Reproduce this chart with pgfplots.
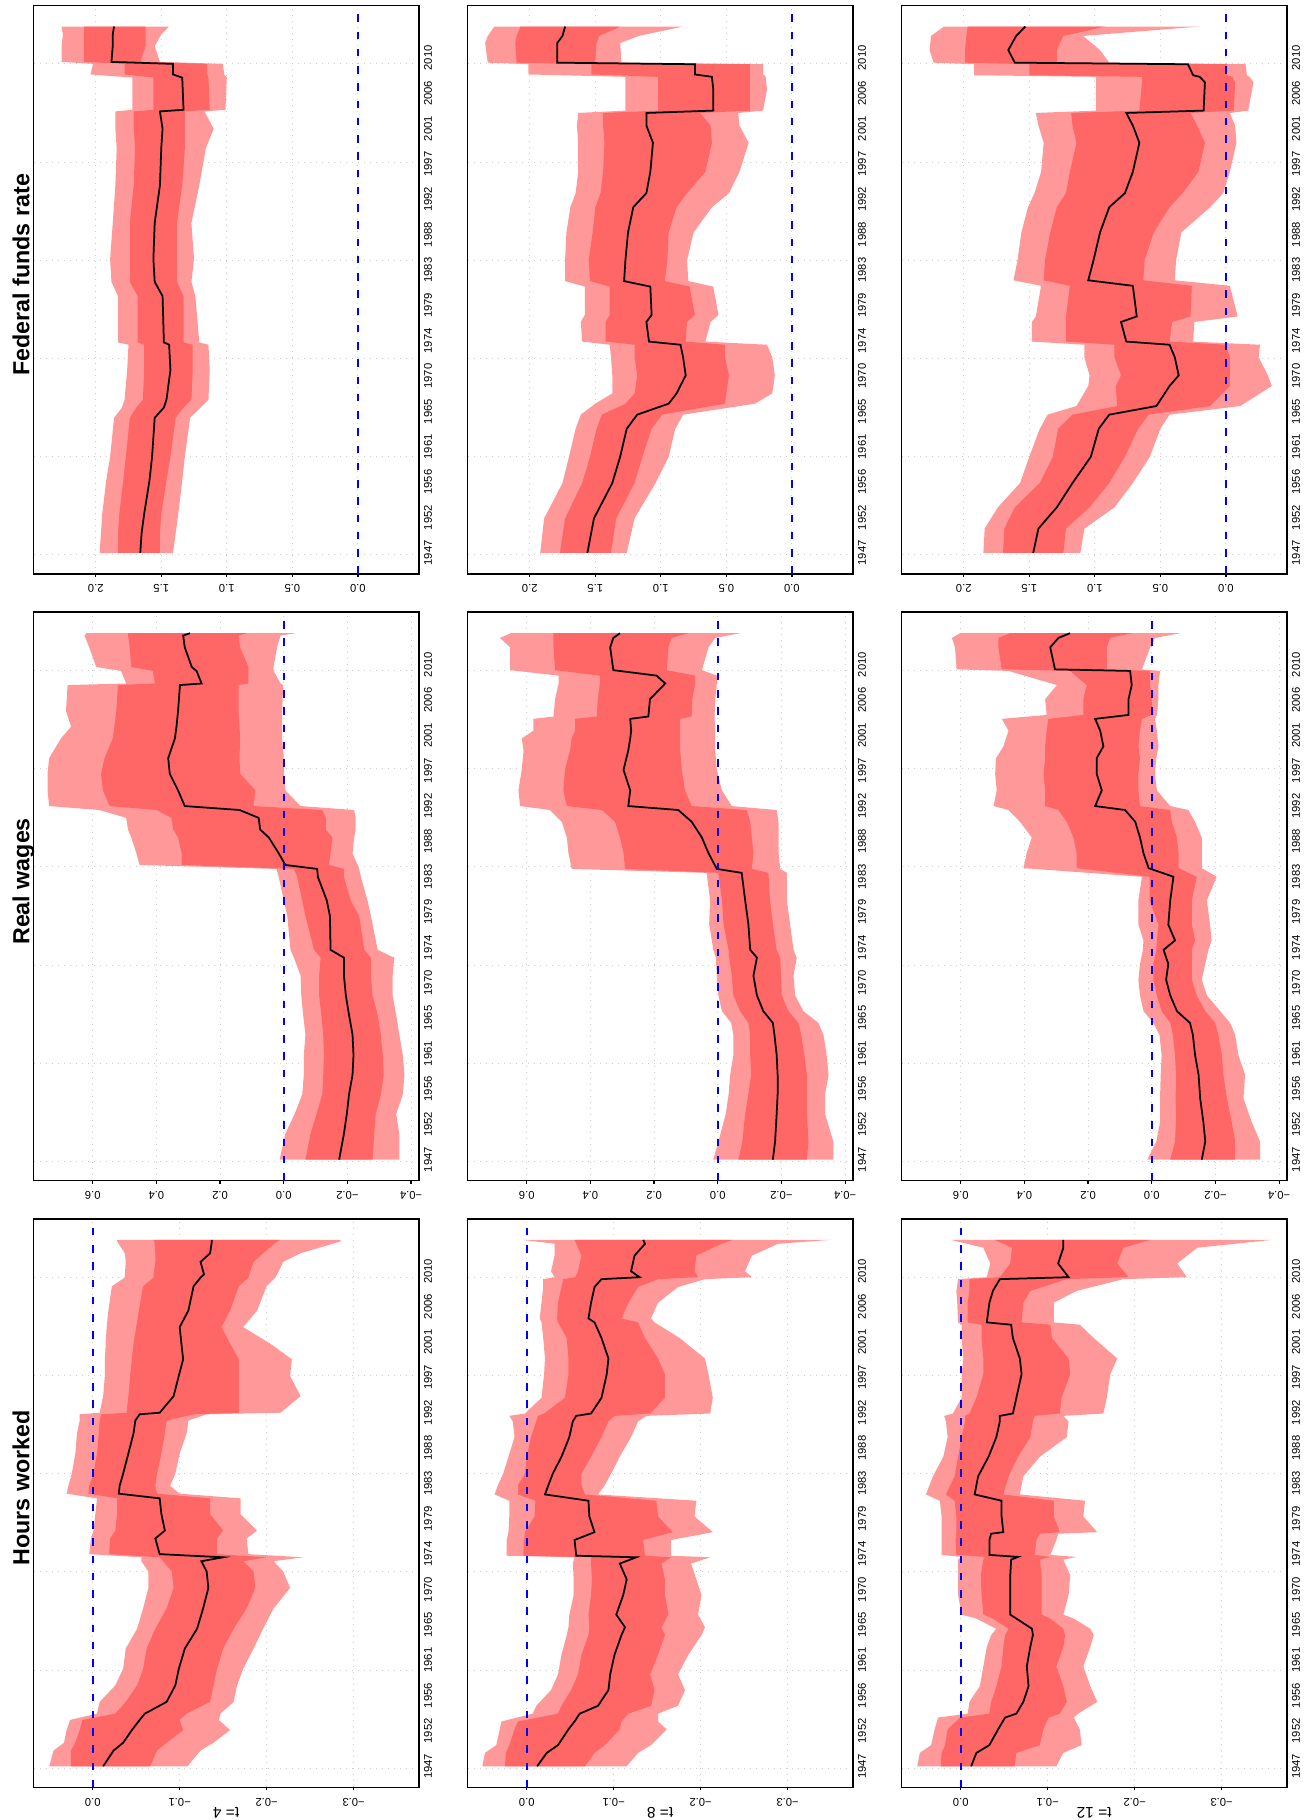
\documentclass[border=0pt]{standalone}
\usepackage{fontspec}
\setmainfont{Liberation Sans}
\usepackage{pgfplots}
\usepackage{pgfplotstable}
\pgfplotsset{compat=1.18}
\usepgfplotslibrary{fillbetween}
\definecolor{lightband}{RGB}{255,153,153}
\definecolor{darkband}{RGB}{255,102,102}
\newcommand{\tf}{\fontsize{4.5}{5}\selectfont}

% columns: y=year, a=upper outer, b=upper inner, m=median, c=lower inner, d=lower outer
\pgfplotstableread{
y a b m c d
1947.0 1.97 1.83 1.66 1.51 1.41
1949.5 1.96 1.83 1.65 1.51 1.39
1952.0 1.95 1.82 1.63 1.50 1.37
1956.2 1.92 1.79 1.59 1.46 1.34
1959.25 1.89 1.77 1.57 1.43 1.32
1964.2 1.86 1.74 1.55 1.39 1.28
1965.5 1.80 1.69 1.48 1.33 1.20
1966.5 1.78 1.64 1.46 1.27 1.14
1970.3 1.76 1.63 1.43 1.26 1.13
1973.5 1.75 1.63 1.44 1.26 1.14
1973.8 1.83 1.68 1.48 1.33 1.21
1979.7 1.83 1.68 1.49 1.33 1.24
1981.5 1.88 1.74 1.55 1.38 1.27
1984.4 1.89 1.74 1.56 1.38 1.25
1989.0 1.87 1.74 1.55 1.38 1.27
1993.8 1.85 1.71 1.51 1.34 1.21
1998.5 1.84 1.70 1.50 1.32 1.16
2001.0 1.85 1.71 1.49 1.32 1.10
2003.2 1.85 1.71 1.51 1.32 1.17
2003.4 1.72 1.56 1.33 1.13 1.01
2007.5 1.72 1.56 1.34 1.14 1.00
2007.9 2.04 1.78 1.41 1.15 1.02
2009.25 2.02 1.78 1.41 1.15 1.03
2009.5 2.26 2.09 1.88 1.66 1.51
2011.5 2.26 2.09 1.87 1.62 1.55
2013.0 2.25 2.09 1.87 1.62 1.50
2014.0 2.26 2.09 1.86 1.62 1.44
}\FA

\pgfplotstableread{
y a b m c d
1947.0 1.92 1.77 1.56 1.38 1.26
1951.4 1.89 1.73 1.51 1.34 1.20
1955.9 1.75 1.60 1.37 1.20 1.04
1959.25 1.70 1.54 1.31 1.14 0.94
1962.8 1.65 1.49 1.26 1.07 0.89
1964.6 1.61 1.45 1.18 0.99 0.83
1966.0 1.50 1.27 0.94 0.51 0.28
1967.3 1.37 1.20 0.88 0.50 0.15
1969.6 1.37 1.18 0.81 0.48 0.13
1971.9 1.38 1.20 0.83 0.51 0.15
1973.5 1.39 1.20 0.85 0.51 0.19
1973.9 1.60 1.42 1.09 0.81 0.66
1976.4 1.61 1.42 1.11 0.80 0.62
1977.3 1.58 1.39 1.07 0.74 0.56
1980.9 1.58 1.39 1.08 0.78 0.60
1981.6 1.73 1.54 1.28 0.97 0.79
1984.25 1.73 1.55 1.27 0.95 0.80
1987.8 1.72 1.52 1.25 0.94 0.75
1991.0 1.69 1.50 1.21 0.88 0.61
1992.8 1.65 1.46 1.11 0.80 0.48
1995.5 1.63 1.44 1.08 0.66 0.40
1999.2 1.63 1.43 1.06 0.61 0.33
2001.4 1.64 1.44 1.11 0.62 0.40
2003.0 1.63 1.44 1.11 0.70 0.41
2003.3 1.27 1.02 0.60 0.32 0.22
2006.0 1.27 1.02 0.60 0.32 0.19
2007.6 1.27 1.02 0.61 0.32 0.20
2007.9 2.01 1.53 0.74 0.32 0.22
2009.2 2.01 1.53 0.74 0.32 0.22
2009.4 2.32 2.10 1.79 1.50 1.30
2011.9 2.34 2.11 1.79 1.49 1.31
2012.8 2.32 2.10 1.75 1.47 1.17
2014.0 2.27 2.07 1.73 1.31 0.83
}\FB

\pgfplotstableread{
y a b m c d
1947.0 1.85 1.70 1.47 1.24 1.11
1950.1 1.84 1.69 1.43 1.22 1.08
1952.8 1.74 1.61 1.29 1.04 0.85
1955.9 1.57 1.42 1.17 0.89 0.71
1959.25 1.50 1.32 1.03 0.77 0.58
1962.8 1.42 1.28 0.97 0.67 0.50
1964.6 1.36 1.17 0.89 0.59 0.43
1965.7 1.14 0.83 0.53 0.12 -0.11
1968.25 1.05 0.84 0.43 -0.03 -0.35
1969.6 1.04 0.80 0.36 -0.03 -0.32
1971.9 1.08 0.85 0.39 -0.03 -0.25
1973.5 1.08 0.85 0.43 0.00 -0.26
1973.9 1.48 1.22 0.76 0.43 0.25
1976.4 1.48 1.22 0.80 0.41 0.24
1977.1 1.45 1.22 0.68 0.27 -0.09
1981.0 1.41 1.19 0.71 0.26 -0.03
1981.7 1.62 1.39 1.05 0.63 0.39
1984.25 1.59 1.38 1.01 0.62 0.38
1987.8 1.56 1.34 0.96 0.55 0.34
1991.0 1.51 1.29 0.89 0.43 0.12
1992.8 1.46 1.22 0.77 0.33 0.02
1995.5 1.41 1.19 0.71 0.21 -0.03
1999.2 1.39 1.14 0.66 0.16 -0.08
2001.4 1.43 1.17 0.71 0.22 -0.07
2003.0 1.45 1.18 0.76 0.27 -0.03
2003.3 0.99 0.66 0.17 -0.06 -0.17
2006.9 0.99 0.64 0.16 -0.07 -0.21
2007.6 0.99 0.64 0.20 -0.05 -0.18
2007.8 1.92 1.50 0.25 -0.01 -0.16
2009.2 1.92 1.50 0.29 -0.01 -0.15
2009.4 2.23 1.99 1.61 1.29 0.89
2011.0 2.26 1.99 1.66 1.29 0.96
2012.8 2.25 1.98 1.60 1.24 1.09
2014.0 2.15 1.97 1.53 0.92 0.20
}\FC

\pgfplotstableread{
y a b m c d
1947.0 0.013 -0.068 -0.174 -0.279 -0.363
1950.3 -0.005 -0.084 -0.189 -0.284 -0.363
1952.8 -0.034 -0.103 -0.198 -0.289 -0.353
1955.3 -0.058 -0.121 -0.205 -0.305 -0.374
1957.8 -0.063 -0.124 -0.216 -0.314 -0.379
1960.3 -0.063 -0.126 -0.219 -0.311 -0.374
1962.9 -0.068 -0.124 -0.216 -0.305 -0.363
1965.4 -0.061 -0.118 -0.205 -0.295 -0.353
1967.9 -0.055 -0.111 -0.195 -0.279 -0.342
1970.4 -0.053 -0.111 -0.189 -0.274 -0.342
1972.7 -0.032 -0.116 -0.189 -0.274 -0.347
1973.7 -0.021 -0.095 -0.147 -0.253 -0.295
1978.0 -0.011 -0.068 -0.145 -0.237 -0.274
1980.0 0.000 -0.058 -0.135 -0.210 -0.263
1983.0 0.016 -0.042 -0.107 -0.189 -0.242
1984.0 0.023 -0.032 -0.105 -0.189 -0.237
1984.5 0.453 0.321 -0.005 -0.142 -0.232
1986.0 0.463 0.321 0.016 -0.147 -0.216
1988.0 0.479 0.332 0.047 -0.153 -0.221
1989.0 0.489 0.347 0.074 -0.132 -0.226
1990.5 0.495 0.353 0.079 -0.132 -0.226
1991.5 0.579 0.400 0.139 -0.121 -0.221
1992.0 0.737 0.547 0.311 0.095 -0.053
1994.0 0.742 0.568 0.332 0.089 -0.005
1996.1 0.742 0.574 0.358 0.137 0.000
1998.1 0.737 0.563 0.363 0.139 0.000
2000.6 0.700 0.537 0.342 0.137 0.005
2002.1 0.668 0.532 0.337 0.139 0.005
2004.1 0.684 0.526 0.332 0.142 0.005
2007.4 0.679 0.521 0.326 0.142 0.002
2007.6 0.495 0.405 0.258 0.111 0.010
2009.2 0.511 0.411 0.274 0.111 0.032
2009.7 0.589 0.479 0.289 0.111 0.032
2012.2 0.611 0.484 0.311 0.137 0.021
2013.7 0.626 0.489 0.316 0.142 0.010
2014.0 0.620 0.489 0.295 0.116 -0.037
}\RA

\pgfplotstableread{
y a b m c d
1947.0 0.014 -0.065 -0.173 -0.280 -0.363
1949.3 -0.002 -0.077 -0.180 -0.285 -0.363
1952.8 -0.025 -0.086 -0.185 -0.280 -0.337
1955.3 -0.034 -0.096 -0.188 -0.280 -0.337
1957.8 -0.039 -0.105 -0.188 -0.280 -0.348
1960.3 -0.049 -0.102 -0.185 -0.272 -0.342
1962.9 -0.049 -0.102 -0.178 -0.262 -0.332
1964.4 -0.042 -0.096 -0.173 -0.253 -0.316
1965.9 -0.013 -0.070 -0.143 -0.222 -0.269
1967.9 -0.002 -0.049 -0.123 -0.201 -0.243
1970.4 0.003 -0.044 -0.112 -0.199 -0.238
1972.7 0.006 -0.036 -0.123 -0.196 -0.248
1973.7 0.014 -0.034 -0.102 -0.185 -0.238
1977.0 0.027 -0.018 -0.096 -0.173 -0.227
1980.0 0.024 -0.013 -0.086 -0.164 -0.217
1983.5 0.035 -0.002 -0.075 -0.159 -0.217
1984.0 0.459 0.291 0.003 -0.107 -0.196
1986.0 0.469 0.296 0.029 -0.112 -0.191
1988.0 0.474 0.307 0.050 -0.107 -0.191
1990.0 0.490 0.323 0.082 -0.102 -0.191
1991.5 0.527 0.364 0.124 -0.091 -0.185
1992.0 0.621 0.474 0.281 0.082 -0.044
1994.0 0.626 0.485 0.275 0.103 -0.013
1996.6 0.616 0.480 0.296 0.113 0.003
1999.1 0.610 0.464 0.281 0.118 0.008
2000.6 0.616 0.459 0.275 0.118 0.008
2001.6 0.579 0.448 0.272 0.118 0.008
2003.1 0.579 0.448 0.275 0.118 0.010
2003.4 0.516 0.380 0.218 0.082 0.010
2005.6 0.511 0.377 0.213 0.080 0.008
2007.6 0.500 0.370 0.165 0.071 0.003
2008.6 0.500 0.370 0.192 0.071 0.003
2009.3 0.652 0.511 0.328 0.160 0.050
2012.2 0.652 0.516 0.338 0.155 0.029
2013.4 0.684 0.516 0.328 0.145 0.008
2014.0 0.650 0.516 0.307 0.092 -0.070
}\RB

\pgfplotstableread{
y a b m c d
1947.0 0.014 -0.058 -0.157 -0.262 -0.340
1949.3 -0.014 -0.073 -0.168 -0.262 -0.340
1951.8 -0.026 -0.076 -0.162 -0.251 -0.314
1954.8 -0.026 -0.075 -0.152 -0.236 -0.288
1957.8 -0.028 -0.076 -0.147 -0.225 -0.293
1960.3 -0.031 -0.073 -0.136 -0.220 -0.272
1962.9 -0.024 -0.066 -0.129 -0.209 -0.262
1964.4 -0.005 -0.058 -0.120 -0.199 -0.246
1965.9 0.026 -0.031 -0.079 -0.168 -0.215
1967.9 0.037 -0.016 -0.058 -0.141 -0.173
1969.9 0.042 -0.005 -0.045 -0.126 -0.157
1971.9 0.037 -0.005 -0.052 -0.126 -0.168
1973.7 0.028 -0.014 -0.037 -0.126 -0.178
1974.9 0.026 -0.016 -0.073 -0.136 -0.188
1976.9 0.042 -0.021 -0.052 -0.126 -0.183
1980.0 0.042 0.007 -0.058 -0.126 -0.173
1983.0 0.031 0.007 -0.068 -0.141 -0.204
1984.1 0.403 0.236 0.010 -0.084 -0.157
1986.0 0.393 0.236 0.026 -0.084 -0.157
1988.0 0.377 0.246 0.037 -0.079 -0.157
1990.0 0.414 0.267 0.052 -0.063 -0.136
1991.5 0.450 0.293 0.084 -0.058 -0.115
1992.0 0.497 0.335 0.178 0.037 -0.058
1994.0 0.487 0.335 0.157 0.042 -0.016
1996.1 0.492 0.340 0.173 0.042 -0.010
1998.1 0.489 0.335 0.173 0.037 -0.014
1999.6 0.466 0.335 0.152 0.042 -0.021
2001.6 0.450 0.330 0.162 0.037 -0.016
2003.1 0.471 0.325 0.178 0.031 -0.010
2003.6 0.330 0.215 0.073 0.000 -0.016
2005.6 0.335 0.215 0.073 0.000 -0.021
2007.4 0.298 0.204 0.063 0.005 -0.021
2009.2 0.450 0.257 0.068 0.005 -0.026
2009.4 0.613 0.471 0.304 0.141 0.031
2012.2 0.618 0.482 0.319 0.141 0.005
2013.4 0.628 0.482 0.293 0.131 -0.010
2014.0 0.602 0.445 0.257 0.063 -0.089
}\RC

\pgfplotstableread{
y a b m c d
1947.0 0.050 0.025 -0.012 -0.066 -0.109
1949.0 0.045 0.025 -0.024 -0.074 -0.124
1950.0 0.033 0.020 -0.035 -0.085 -0.139
1951.6 0.030 0.015 -0.045 -0.104 -0.158
1952.9 0.026 0.012 -0.054 -0.100 -0.145
1953.7 -0.005 -0.026 -0.060 -0.108 -0.147
1955.2 -0.008 -0.038 -0.085 -0.135 -0.162
1957.3 -0.026 -0.051 -0.095 -0.139 -0.166
1959.4 -0.035 -0.058 -0.099 -0.143 -0.173
1962.0 -0.038 -0.062 -0.106 -0.150 -0.185
1964.5 -0.051 -0.072 -0.120 -0.162 -0.196
1967.1 -0.058 -0.085 -0.127 -0.177 -0.208
1969.7 -0.064 -0.093 -0.133 -0.187 -0.227
1971.8 -0.064 -0.091 -0.131 -0.185 -0.219
1973.1 -0.056 -0.081 -0.125 -0.173 -0.208
1973.6 -0.056 -0.077 -0.150 -0.200 -0.242
1974.0 0.004 -0.019 -0.077 -0.143 -0.179
1976.0 0.002 -0.020 -0.072 -0.143 -0.177
1977.0 -0.001 -0.026 -0.083 -0.150 -0.189
1979.1 -0.003 -0.028 -0.079 -0.135 -0.170
1981.1 -0.005 -0.028 -0.077 -0.135 -0.170
1981.7 0.030 0.005 -0.030 -0.074 -0.100
1982.7 0.028 0.004 -0.031 -0.072 -0.089
1984.25 0.024 -0.001 -0.035 -0.074 -0.095
1986.8 0.020 -0.005 -0.041 -0.079 -0.100
1989.4 0.018 -0.007 -0.047 -0.083 -0.108
1991.0 0.015 -0.008 -0.049 -0.085 -0.110
1991.8 0.015 -0.010 -0.054 -0.116 -0.131
1992.0 -0.008 -0.039 -0.077 -0.168 -0.216
1994.1 -0.012 -0.041 -0.093 -0.168 -0.239
1996.7 -0.014 -0.043 -0.099 -0.168 -0.227
1998.8 -0.014 -0.045 -0.104 -0.168 -0.229
2000.8 -0.015 -0.047 -0.102 -0.158 -0.204
2002.9 -0.016 -0.050 -0.100 -0.148 -0.173
2005.0 -0.018 -0.053 -0.110 -0.158 -0.189
2008.1 -0.022 -0.058 -0.116 -0.168 -0.200
2009.2 -0.037 -0.070 -0.124 -0.179 -0.210
2009.6 -0.037 -0.070 -0.128 -0.180 -0.212
2011.2 -0.038 -0.072 -0.124 -0.185 -0.219
2012.3 -0.037 -0.072 -0.135 -0.196 -0.239
2013.8 -0.028 -0.071 -0.137 -0.212 -0.285
2014.0 -0.028 -0.070 -0.137 -0.216 -0.285
}\HA

\pgfplotstableread{
y a b m c d
1947.0 0.051 0.025 -0.012 -0.067 -0.115
1948.7 0.048 0.024 -0.023 -0.078 -0.128
1949.7 0.035 0.020 -0.036 -0.090 -0.143
1951.7 0.031 0.014 -0.048 -0.107 -0.161
1952.7 0.029 0.010 -0.055 -0.109 -0.151
1953.7 -0.007 -0.036 -0.061 -0.117 -0.151
1954.7 -0.011 -0.040 -0.082 -0.143 -0.174
1956.7 -0.028 -0.051 -0.094 -0.147 -0.182
1958.7 -0.036 -0.059 -0.096 -0.142 -0.174
1961.2 -0.040 -0.063 -0.101 -0.151 -0.186
1963.7 -0.046 -0.071 -0.109 -0.159 -0.201
1964.7 -0.048 -0.072 -0.113 -0.155 -0.205
1966.3 -0.049 -0.071 -0.103 -0.163 -0.197
1968.8 -0.054 -0.074 -0.111 -0.159 -0.201
1970.8 -0.054 -0.075 -0.115 -0.159 -0.195
1972.8 -0.053 -0.074 -0.107 -0.155 -0.189
1973.6 -0.055 -0.074 -0.126 -0.166 -0.211
1973.8 0.023 0.004 -0.057 -0.136 -0.166
1975.8 0.023 0.003 -0.055 -0.134 -0.166
1976.8 0.021 0.002 -0.078 -0.168 -0.214
1978.8 0.020 -0.009 -0.072 -0.151 -0.193
1980.8 0.020 -0.010 -0.071 -0.149 -0.195
1981.6 0.037 0.010 -0.021 -0.067 -0.082
1982.8 0.033 0.010 -0.025 -0.063 -0.090
1984.25 0.027 0.002 -0.030 -0.063 -0.097
1986.4 0.021 0.000 -0.040 -0.074 -0.107
1988.9 0.014 -0.005 -0.049 -0.086 -0.120
1990.9 0.016 -0.011 -0.053 -0.094 -0.128
1991.6 0.020 -0.013 -0.057 -0.101 -0.138
1991.9 0.002 -0.020 -0.074 -0.142 -0.211
1993.9 -0.017 -0.044 -0.086 -0.159 -0.214
1996.9 -0.020 -0.048 -0.092 -0.159 -0.209
1998.9 -0.021 -0.048 -0.094 -0.151 -0.205
2001.5 -0.019 -0.046 -0.086 -0.136 -0.176
2003.5 -0.017 -0.036 -0.078 -0.128 -0.147
2004.0 -0.015 -0.035 -0.071 -0.109 -0.143
2006.0 -0.017 -0.036 -0.074 -0.117 -0.151
2008.0 -0.019 -0.040 -0.078 -0.128 -0.174
2009.0 -0.019 -0.042 -0.086 -0.151 -0.205
2009.25 -0.032 -0.056 -0.130 -0.197 -0.259
2010.0 -0.028 -0.059 -0.120 -0.193 -0.251
2012.0 -0.032 -0.063 -0.124 -0.195 -0.259
2013.5 -0.032 -0.057 -0.136 -0.224 -0.289
2014.0 0.004 -0.055 -0.134 -0.237 -0.349
}\HB

\pgfplotstableread{
y a b m c d
1947.0 0.050 0.023 -0.012 -0.062 -0.110
1948.7 0.047 0.022 -0.018 -0.064 -0.118
1949.7 0.034 0.018 -0.033 -0.091 -0.139
1951.7 0.030 0.015 -0.043 -0.095 -0.137
1953.2 0.026 0.001 -0.051 -0.101 -0.130
1953.7 -0.008 -0.033 -0.064 -0.114 -0.135
1955.2 -0.010 -0.035 -0.072 -0.122 -0.157
1957.2 -0.022 -0.041 -0.078 -0.118 -0.149
1959.7 -0.026 -0.047 -0.076 -0.110 -0.141
1962.2 -0.030 -0.049 -0.080 -0.118 -0.149
1963.7 -0.035 -0.051 -0.083 -0.120 -0.153
1964.5 -0.041 -0.055 -0.082 -0.118 -0.149
1965.8 -0.018 -0.037 -0.064 -0.103 -0.130
1966.3 -0.001 -0.026 -0.057 -0.093 -0.118
1968.8 0.003 -0.024 -0.057 -0.093 -0.124
1971.3 0.003 -0.023 -0.057 -0.093 -0.126
1973.3 0.003 -0.026 -0.058 -0.091 -0.118
1973.65 -0.001 -0.028 -0.066 -0.103 -0.133
1973.9 0.022 0.005 -0.033 -0.085 -0.103
1975.8 0.022 0.006 -0.033 -0.087 -0.110
1976.6 0.022 0.005 -0.035 -0.091 -0.112
1976.8 0.022 0.005 -0.049 -0.114 -0.157
1978.8 0.022 0.005 -0.047 -0.107 -0.141
1980.8 0.024 0.007 -0.047 -0.107 -0.143
1981.6 0.040 0.017 -0.016 -0.049 -0.068
1983.9 0.032 0.007 -0.020 -0.055 -0.072
1986.4 0.020 0.003 -0.032 -0.066 -0.091
1988.9 0.015 -0.001 -0.041 -0.080 -0.122
1990.9 0.017 -0.005 -0.045 -0.083 -0.124
1991.6 0.019 -0.005 -0.045 -0.085 -0.118
1991.9 0.009 -0.010 -0.060 -0.114 -0.164
1993.9 -0.001 -0.018 -0.064 -0.116 -0.168
1996.9 -0.001 -0.026 -0.070 -0.126 -0.172
1998.9 -0.003 -0.026 -0.068 -0.124 -0.180
2001.5 -0.001 -0.024 -0.060 -0.105 -0.153
2003.2 -0.001 -0.024 -0.058 -0.103 -0.137
2003.5 0.003 -0.008 -0.030 -0.070 -0.107
2006.0 0.004 -0.008 -0.033 -0.072 -0.107
2007.5 0.005 -0.010 -0.037 -0.080 -0.133
2009.0 0.003 -0.010 -0.045 -0.122 -0.187
2009.25 -0.030 -0.045 -0.124 -0.193 -0.260
2011.0 -0.034 -0.057 -0.112 -0.180 -0.249
2013.0 -0.026 -0.059 -0.118 -0.187 -0.272
2014.0 0.011 -0.039 -0.118 -0.218 -0.358
}\HC

\pgfplotsset{
  panel/.style={
    scale only axis, width=154.28pt, height=227.4pt, anchor=north west,
    x dir=reverse, ymin=1944.32, ymax=2016.68,
    axis line style={line width=0.6pt},
    ytick={1947,1951.5,1956,1960.5,1965,1969.5,1974,1978.5,1983,1987.5,1992,1996.5,2001,2005.5,2010},
    yticklabels={1947,1952,1956,1961,1965,1970,1974,1979,1983,1988,1992,1997,2001,2006,2010},
    ytick pos=right, yticklabel pos=right,
    ytick style={draw=none},
    yticklabel style={rotate=90, anchor=north, font=\tf, inner sep=0.6pt},
    extra y ticks={1946.75,1959.25,1971.75,1984.25,1996.75,2009.25},
    extra y tick labels={},
    extra y tick style={grid=major},
    xmajorgrids,
    grid style={gray!40, dotted, line width=0.4pt},
    tick align=outside, major tick length=1.2pt,
    xtick pos=left,
    xtick style={line width=0.5pt, black},
    xticklabel style={rotate=180, anchor=south, font=\tf, inner sep=2.95pt},
    title style={at={(axis description cs:-0.0105,0.5)}, anchor=base, rotate=90,
      font=\fontsize{9.3}{11}\selectfont\bfseries},
    xlabel style={at={(axis description cs:0.5,-0.0357)}, anchor=base, rotate=180,
      inner sep=0pt, font=\fontsize{6.2}{7}\selectfont},
  },
  fedax/.style={xmin=-0.466, xmax=2.476, xtick={0,0.5,1,1.5,2},
    xticklabels={0.0,0.5,1.0,1.5,2.0}},
  rwax/.style={xmin=-0.4247, xmax=0.7867, xtick={-0.4,-0.2,0,0.2,0.4,0.6},
    xticklabels={−0.4,−0.2,0.0,0.2,0.4,0.6}},
  hax/.style={xmin=-0.3752, xmax=0.0683, xtick={-0.3,-0.2,-0.1,0},
    xticklabels={−0.3,−0.2,−0.1,0.0}},
}

\newcommand{\bands}[2]{%
  \addplot[name path=A#2, draw=none] table[x=a, y=y] {#1};
  \addplot[name path=D#2, draw=none] table[x=d, y=y] {#1};
  \addplot[fill=lightband, draw=none] fill between[of=A#2 and D#2];
  \addplot[name path=B#2, draw=none] table[x=b, y=y] {#1};
  \addplot[name path=C#2, draw=none] table[x=c, y=y] {#1};
  \addplot[fill=darkband, draw=none] fill between[of=B#2 and C#2];
  \addplot[black, line width=0.7pt] table[x=m, y=y] {#1};
  \addplot[blue, line width=0.9pt, dash pattern=on 3pt off 3.9pt] coordinates {(0,1944.32) (0,2016.68)};
}

\begin{document}
\begin{tikzpicture}
\path (0,0) rectangle (524.8pt,728pt);
% Federal funds rate row
\begin{axis}[panel, fedax, at={(13.32pt,725.8pt)}, title={Federal funds rate}]
\bands{\FA}{fa}
\end{axis}
\begin{axis}[panel, fedax, at={(186.92pt,725.8pt)}]
\bands{\FB}{fb}
\end{axis}
\begin{axis}[panel, fedax, at={(360.52pt,725.8pt)}]
\bands{\FC}{fc}
\end{axis}
% Real wages row
\begin{axis}[panel, rwax, at={(13.32pt,483.13pt)}, title={Real wages}]
\bands{\RA}{ra}
\end{axis}
\begin{axis}[panel, rwax, at={(186.92pt,483.13pt)}]
\bands{\RB}{rb}
\end{axis}
\begin{axis}[panel, rwax, at={(360.52pt,483.13pt)}]
\bands{\RC}{rc}
\end{axis}
% Hours worked row
\begin{axis}[panel, hax, at={(13.32pt,240.47pt)}, title={Hours worked}, xlabel={t= 4}]
\bands{\HA}{ha}
\end{axis}
\begin{axis}[panel, hax, at={(186.92pt,240.47pt)}, xlabel={t= 8}]
\bands{\HB}{hb}
\end{axis}
\begin{axis}[panel, hax, at={(360.52pt,240.47pt)}, xlabel={t= 12}]
\bands{\HC}{hc}
\end{axis}
\end{tikzpicture}
\end{document}
